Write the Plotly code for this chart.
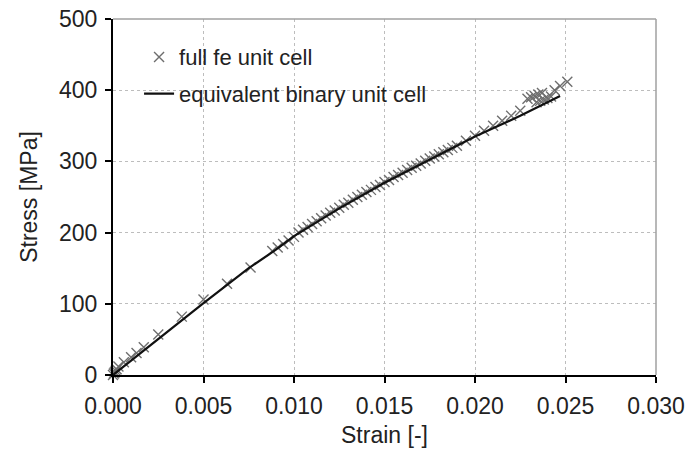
import plotly.graph_objects as go

# full FE unit cell (markers)
fe_strain = [0.0, 0.00005, 0.0001, 0.00015, 0.0002, 0.0003, 0.0006, 0.0010, 0.0013, 0.0017,
             0.0025, 0.0038, 0.0050, 0.0063, 0.0076, 0.0088, 0.0091, 0.0094, 0.0097, 0.0100,
             0.01025, 0.0105, 0.01075, 0.0110, 0.01125, 0.0115, 0.01175, 0.0120, 0.01225, 0.0125,
             0.01275, 0.0130, 0.01325, 0.0135, 0.01375, 0.0140, 0.01425, 0.0145, 0.01475, 0.0150,
             0.01525, 0.0155, 0.01575, 0.0160, 0.01625, 0.0165, 0.01675, 0.0170, 0.01725, 0.0175,
             0.01775, 0.0180, 0.01825, 0.0185, 0.01875, 0.0190, 0.0195, 0.0200, 0.0205, 0.0210,
             0.0215, 0.0220, 0.0225, 0.0229, 0.0231, 0.0233, 0.0235, 0.0237, 0.0234, 0.0236,
             0.0238, 0.0240, 0.0242, 0.0244, 0.0247, 0.0251]
fe_stress = [0, 2, 4, 6, 8, 12, 18, 25, 31, 39,
             57, 82, 106, 128, 151, 174, 179, 184, 189, 194,
             200, 204, 208, 212, 216, 220, 224, 228, 231, 235,
             239, 242, 246, 250, 253, 257, 260, 264, 267, 271,
             274, 278, 281, 284, 288, 291, 294, 297, 301, 304,
             307, 310, 313, 316, 319, 322, 329, 336, 343, 350,
             357, 364, 371, 388, 390, 392, 394, 396, 383, 385,
             387, 389, 391, 400, 406, 412]

# equivalent binary unit cell (line)
bin_strain = [0.0, 0.0025, 0.0050, 0.0075, 0.0090, 0.0100, 0.0125, 0.0150, 0.0175, 0.0200, 0.0225, 0.0247]
bin_stress = [0, 51, 101, 150, 176, 195, 234, 270, 303, 335, 364, 392]

x_ticks = [0.000, 0.005, 0.010, 0.015, 0.020, 0.025, 0.030]
x_ticktext = ["0.000", "0.005", "0.010", "0.015", "0.020", "0.025", "0.030"]
y_ticks = [0, 100, 200, 300, 400, 500]

FONT = "Liberation Sans, Arial, sans-serif"

fig = go.Figure()
fig.add_trace(go.Scatter(
    x=fe_strain, y=fe_stress, mode="markers", name="full fe unit cell",
    marker=dict(symbol="x-thin-open", size=10, color="#6e6e6e",
                line=dict(width=1.4, color="#666666")),
    cliponaxis=False, legend="legend", showlegend=True))
fig.add_trace(go.Scatter(
    x=bin_strain, y=bin_stress, mode="lines", name="equivalent binary unit cell",
    line=dict(color="#111111", width=2.2), legend="legend2", showlegend=True))

fig.update_layout(
    width=688, height=452,
    margin=dict(l=113, r=32, t=19, b=77),
    showlegend=True,
    paper_bgcolor="white", plot_bgcolor="white",
    font=dict(family=FONT, size=23, color="#222222"),
    legend=dict(x=0.048, y=0.893, xanchor="left", yanchor="middle",
                bgcolor="rgba(0,0,0,0)", font=dict(size=22), itemwidth=30),
    legend2=dict(x=0.048, y=0.79, xanchor="left", yanchor="middle",
                 bgcolor="rgba(0,0,0,0)", font=dict(size=22), itemwidth=30),
    xaxis=dict(range=[0, 0.030], tickvals=x_ticks, ticktext=x_ticktext,
               showline=True, linecolor="black", linewidth=2,
               ticks="outside", ticklen=6, tickwidth=2, tickcolor="black",
               ticklabelstandoff=3, ticklabeloverflow="allow",
               showgrid=True, gridcolor="#bdbdbd", griddash="dot", gridwidth=1,
               zeroline=False, automargin=False,
               title=dict(text="Strain [-]", font=dict(size=23), standoff=9)),
    yaxis=dict(range=[0, 500], tickvals=y_ticks,
               showline=True, linecolor="black", linewidth=2,
               ticks="outside", ticklen=6, tickwidth=2, tickcolor="black",
               ticklabelstandoff=3, ticklabeloverflow="allow",
               showgrid=True, gridcolor="#bdbdbd", griddash="dot", gridwidth=1,
               zeroline=False, automargin=False,
               title=dict(text="Stress [MPa]", font=dict(size=23), standoff=15)),
    shapes=[
        dict(type="line", xref="paper", yref="paper", x0=0, x1=1, y0=1, y1=1,
             line=dict(color="#a0a0a0", width=1.5)),
        dict(type="line", xref="paper", yref="paper", x0=1, x1=1, y0=0, y1=1,
             line=dict(color="#a0a0a0", width=1.5)),
    ],
)

fig.write_html("out.html", config={"displayModeBar": False},
               post_script="document.body.style.margin='0px';")
